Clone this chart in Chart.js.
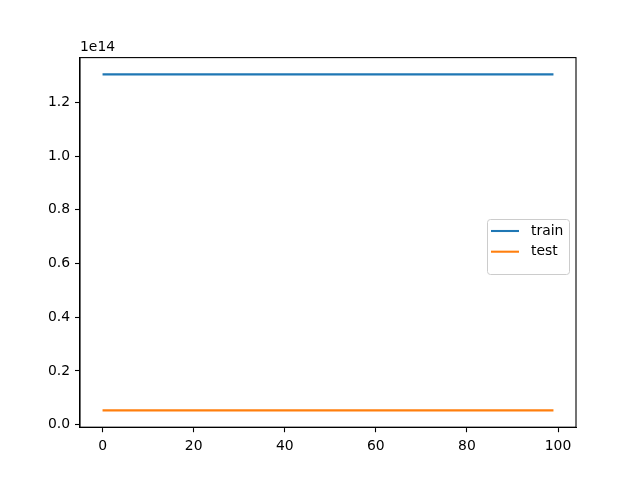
<!DOCTYPE html>
<html>
<head>
<meta charset="utf-8">
<script src="https://cdn.jsdelivr.net/npm/chart.js@4/dist/chart.umd.min.js"></script>
<style>
html,body{margin:0;padding:0;background:#fff;}
canvas{display:block;}
</style>
</head>
<body>
<canvas id="c" width="640" height="480"></canvas>
<script>
// ---- data ----
const epochs = [0,1,2,3,4,5,6,7,8,9,10,11,12,13,14,15,16,17,18,19,20,21,22,23,24,25,26,27,28,29,30,31,32,33,34,35,36,37,38,39,40,41,42,43,44,45,46,47,48,49,50,51,52,53,54,55,56,57,58,59,60,61,62,63,64,65,66,67,68,69,70,71,72,73,74,75,76,77,78,79,80,81,82,83,84,85,86,87,88,89,90,91,92,93,94,95,96,97,98,99];
const trainLoss = [1.3045e14,1.3045e14,1.3045e14,1.3045e14,1.3045e14,1.3045e14,1.3045e14,1.3045e14,1.3045e14,1.3045e14,
1.3045e14,1.3045e14,1.3045e14,1.3045e14,1.3045e14,1.3045e14,1.3045e14,1.3045e14,1.3045e14,1.3045e14,
1.3045e14,1.3045e14,1.3045e14,1.3045e14,1.3045e14,1.3045e14,1.3045e14,1.3045e14,1.3045e14,1.3045e14,
1.3045e14,1.3045e14,1.3045e14,1.3045e14,1.3045e14,1.3045e14,1.3045e14,1.3045e14,1.3045e14,1.3045e14,
1.3045e14,1.3045e14,1.3045e14,1.3045e14,1.3045e14,1.3045e14,1.3045e14,1.3045e14,1.3045e14,1.3045e14,
1.3045e14,1.3045e14,1.3045e14,1.3045e14,1.3045e14,1.3045e14,1.3045e14,1.3045e14,1.3045e14,1.3045e14,
1.3045e14,1.3045e14,1.3045e14,1.3045e14,1.3045e14,1.3045e14,1.3045e14,1.3045e14,1.3045e14,1.3045e14,
1.3045e14,1.3045e14,1.3045e14,1.3045e14,1.3045e14,1.3045e14,1.3045e14,1.3045e14,1.3045e14,1.3045e14,
1.3045e14,1.3045e14,1.3045e14,1.3045e14,1.3045e14,1.3045e14,1.3045e14,1.3045e14,1.3045e14,1.3045e14,
1.3045e14,1.3045e14,1.3045e14,1.3045e14,1.3045e14,1.3045e14,1.3045e14,1.3045e14,1.3045e14,1.3045e14];
const testLoss = [0.053e14,0.053e14,0.053e14,0.053e14,0.053e14,0.053e14,0.053e14,0.053e14,0.053e14,0.053e14,
0.053e14,0.053e14,0.053e14,0.053e14,0.053e14,0.053e14,0.053e14,0.053e14,0.053e14,0.053e14,
0.053e14,0.053e14,0.053e14,0.053e14,0.053e14,0.053e14,0.053e14,0.053e14,0.053e14,0.053e14,
0.053e14,0.053e14,0.053e14,0.053e14,0.053e14,0.053e14,0.053e14,0.053e14,0.053e14,0.053e14,
0.053e14,0.053e14,0.053e14,0.053e14,0.053e14,0.053e14,0.053e14,0.053e14,0.053e14,0.053e14,
0.053e14,0.053e14,0.053e14,0.053e14,0.053e14,0.053e14,0.053e14,0.053e14,0.053e14,0.053e14,
0.053e14,0.053e14,0.053e14,0.053e14,0.053e14,0.053e14,0.053e14,0.053e14,0.053e14,0.053e14,
0.053e14,0.053e14,0.053e14,0.053e14,0.053e14,0.053e14,0.053e14,0.053e14,0.053e14,0.053e14,
0.053e14,0.053e14,0.053e14,0.053e14,0.053e14,0.053e14,0.053e14,0.053e14,0.053e14,0.053e14,
0.053e14,0.053e14,0.053e14,0.053e14,0.053e14,0.053e14,0.053e14,0.053e14,0.053e14,0.053e14];
const seriesLabels = ['train', 'test'];
const xTicks = [0, 20, 40, 60, 80, 100];
const yTicks = [0, 0.2e14, 0.4e14, 0.6e14, 0.8e14, 1.0e14, 1.2e14];
const yOffsetText = '1e14';

// ---- styling ----
const FONT = 'DejaVu Sans';
const FS = 13.9;
const colors = ['#1f77b4', '#ff7f0e'];

// data limits with 5% margin (matplotlib style)
const allY = trainLoss.concat(testLoss);
const yMinD = Math.min(...allY), yMaxD = Math.max(...allY);
const yPad = (yMaxD - yMinD) * 0.05;
const xMinD = Math.min(...epochs), xMaxD = Math.max(...epochs);
const xPad = (xMaxD - xMinD) * 0.05;

const framePlugin = {
  id: 'frame',
  afterDraw(chart) {
    const ctx = chart.ctx, a = chart.chartArea;
    ctx.save();
    ctx.strokeStyle = '#000';
    ctx.lineWidth = 1.1;
    ctx.strokeRect(a.left, a.top, a.right - a.left, a.bottom - a.top);
    // offset text
    ctx.fillStyle = '#000';
    ctx.font = FS + 'px "' + FONT + '"';
    ctx.textAlign = 'left';
    ctx.textBaseline = 'bottom';
    ctx.fillText(yOffsetText, a.left, a.top - 3);
    // legend
    const lx = 487, ly = 219, lw = 82, lh = 55;
    ctx.fillStyle = 'rgba(255,255,255,0.8)';
    ctx.strokeStyle = '#cccccc';
    ctx.lineWidth = 1;
    ctx.beginPath();
    if (ctx.roundRect) ctx.roundRect(lx + 0.5, ly + 0.5, lw, lh, 3); else ctx.rect(lx + 0.5, ly + 0.5, lw, lh);
    ctx.fill();
    ctx.stroke();
    chart.data.datasets.forEach((ds, i) => {
      const yy = 231 + i * 20.7;
      ctx.strokeStyle = ds.borderColor;
      ctx.lineWidth = 2.08;
      ctx.beginPath();
      ctx.moveTo(491, yy);
      ctx.lineTo(519, yy);
      ctx.stroke();
      ctx.fillStyle = '#000';
      ctx.textBaseline = 'middle';
      ctx.fillText(ds.label, 531, yy);
    });
    ctx.restore();
  }
};

new Chart(document.getElementById('c'), {
  type: 'line',
  data: {
    datasets: [
      { label: seriesLabels[0], data: epochs.map((x, i) => ({ x, y: trainLoss[i] })), borderColor: colors[0], backgroundColor: colors[0], borderWidth: 2.08, pointRadius: 0, tension: 0, fill: false },
      { label: seriesLabels[1], data: epochs.map((x, i) => ({ x, y: testLoss[i] })), borderColor: colors[1], backgroundColor: colors[1], borderWidth: 2.08, pointRadius: 0, tension: 0, fill: false }
    ]
  },
  options: {
    responsive: false,
    animation: false,
    devicePixelRatio: 1,
    layout: { padding: { top: 57.6, right: 64, left: 0, bottom: 0 } },
    plugins: { legend: { display: false }, tooltip: { enabled: false } },
    scales: {
      x: {
        type: 'linear',
        min: xMinD - xPad,
        max: xMaxD + xPad,
        afterBuildTicks(s) { s.ticks = xTicks.map(v => ({ value: v })); },
        afterFit(s) { s.height = 52.8; },
        grid: { display: true, drawOnChartArea: false, drawTicks: true, tickLength: 5, color: '#000', tickWidth: 1.1 },
        border: { display: true, color: '#000', width: 1.1 },
        ticks: { color: '#000', font: { family: FONT, size: FS }, padding: 6, maxRotation: 0, autoSkip: false, callback: v => String(v) }
      },
      y: {
        type: 'linear',
        min: yMinD - yPad,
        max: yMaxD + yPad,
        afterBuildTicks(s) { s.ticks = yTicks.map(v => ({ value: v })); },
        afterFit(s) { s.width = 80; },
        grid: { display: true, drawOnChartArea: false, drawTicks: true, tickLength: 5, color: '#000', tickWidth: 1.1 },
        border: { display: true, color: '#000', width: 1.1 },
        ticks: { color: '#000', font: { family: FONT, size: FS }, padding: 5, autoSkip: false, callback: v => (v / 1e14).toFixed(1) }
      }
    }
  },
  plugins: [framePlugin]
});
</script>
</body>
</html>
